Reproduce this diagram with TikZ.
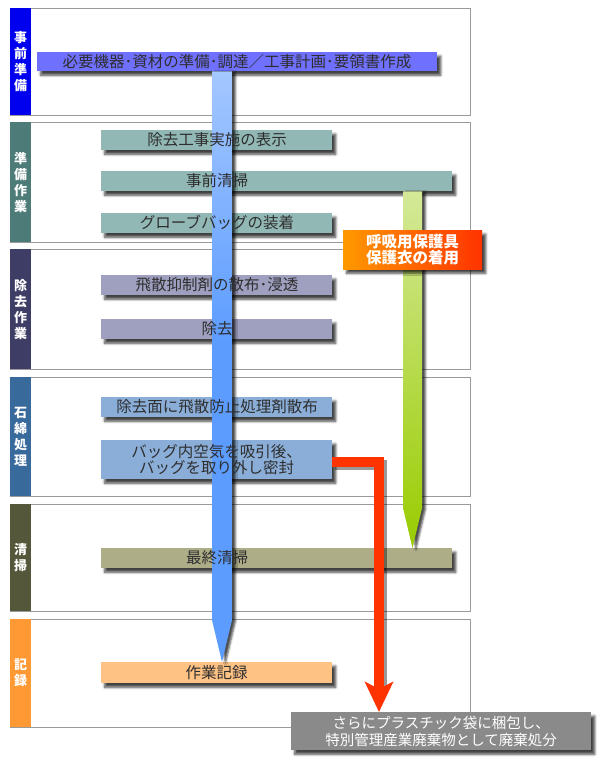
\documentclass[tikz,border=0pt]{standalone}
\usepackage{fontspec}
\setmainfont{Noto Sans CJK JP}
\usetikzlibrary{calc,arrows.meta,shadows.blur}
\definecolor{panelgray}{HTML}{9A9A9A}
\definecolor{tagA}{HTML}{0000EE}
\definecolor{tagB}{HTML}{4D7B77}
\definecolor{tagC}{HTML}{3D3D66}
\definecolor{tagD}{HTML}{386A9B}
\definecolor{tagE}{HTML}{55573A}
\definecolor{tagF}{HTML}{FF9933}
\definecolor{barA}{HTML}{7070FF}
\definecolor{barB}{HTML}{92B8B5}
\definecolor{barC}{HTML}{9F9FC0}
\definecolor{barD}{HTML}{8BAED8}
\definecolor{barE}{HTML}{ADAD88}
\definecolor{barF}{HTML}{FFC285}
\definecolor{finalgray}{HTML}{8A8A8A}
\definecolor{redline}{HTML}{FF3300}
\definecolor{orangeL}{HTML}{FF9900}
\definecolor{orangeR}{HTML}{FF3300}
\definecolor{txtgray}{HTML}{2E2E2E}
\definecolor{blueB}{HTML}{5C9CFF}
\definecolor{blueT}{HTML}{F2F6FF}
\definecolor{greenB}{HTML}{99CC00}
\definecolor{greenT}{HTML}{F2F7E4}
\pgfdeclareverticalshading{bluearrowshade}{100bp}{color(0bp)=(blueB); color(52bp)=(blueB); color(100bp)=(blueT)}
\pgfdeclareverticalshading{greenarrowshade}{100bp}{color(0bp)=(greenB); color(25bp)=(greenB); color(100bp)=(greenT)}
\tikzset{
  panel/.style={draw=panelgray, line width=0.8pt, minimum width=460pt, inner sep=0pt, anchor=north west},
  tag/.style={fill=#1, minimum width=21pt, inner sep=0pt, anchor=north west, text=white,
    font=\fontsize{13}{16}\selectfont\bfseries, align=center},
  bar/.style={fill=#1, inner sep=0pt, anchor=north west, minimum height=20pt,
    blur shadow={shadow xshift=3.5pt, shadow yshift=-4pt, shadow blur radius=2.5pt, shadow opacity=75}},
  btext/.style={text=txtgray, font=\fontsize{15.5}{16}\selectfont, inner sep=0pt, align=center},
  arrowshadow/.style={blur shadow={shadow xshift=3.5pt, shadow yshift=-1pt, shadow blur radius=2pt, shadow opacity=70}},
}
\begin{document}
\begin{tikzpicture}[x=1pt, y=-1pt]
\useasboundingbox (0,0) rectangle (600,765);
% panels
\node[panel, minimum height=107pt] (p1) at (10,8) {};
\node[panel, minimum height=120pt] (p2) at (10,122) {};
\node[panel, minimum height=120pt] (p3) at (10,249) {};
\node[panel, minimum height=119pt] (p4) at (10,377) {};
\node[panel, minimum height=107pt] (p5) at (10,504) {};
\node[panel, minimum height=108pt] (p6) at (10,619) {};
% tags
\node[tag=tagA, minimum height=107pt] (l1) at (10,8) {事\\前\\準\\備};
\node[tag=tagB, minimum height=120pt] (l2) at (10,122) {準\\備\\作\\業};
\node[tag=tagC, minimum height=120pt] (l3) at (10,249) {除\\去\\作\\業};
\node[tag=tagD, minimum height=119pt] (l4) at (10,377) {石\\綿\\処\\理};
\node[tag=tagE, minimum height=107pt] (l5) at (10,504) {清\\掃};
\node[tag=tagF, minimum height=108pt] (l6) at (10,619) {記\\録};
% bars
\node[bar=barA, minimum width=400pt, minimum height=19pt] (b0) at (37,52) {};
\node[bar=barB, minimum width=231pt] (b1) at (101,130) {};
\node[bar=barB, minimum width=351pt] (b2) at (101,171) {};
\node[bar=barB, minimum width=231pt] (b3) at (101,213) {};
\node[bar=barC, minimum width=231pt] (b4) at (101,275) {};
\node[bar=barC, minimum width=231pt] (b5) at (101,319) {};
\node[bar=barD, minimum width=231pt] (b6) at (101,397) {};
\node[bar=barD, minimum width=231pt, minimum height=39pt] (b7) at (101,440) {};
\node[bar=barE, minimum width=351pt] (b8) at (101,548) {};
\node[bar=barF, minimum width=231pt, minimum height=21pt] (b9) at (101,662) {};
\node[bar=finalgray, minimum width=300pt, minimum height=38pt] (fin) at (291,712) {};
% blue arrow
\coordinate (btop) at (222,0 |- b0.south);
\coordinate (btip) at (222,0 |- b9.north);
\shade[shading=bluearrowshade, arrowshadow]
  ($(btop)+(-10,0)$) -- ($(btop)+(10,0)$) -- ($(btip)+(10,-42)$) -- (btip)
  -- ($(btip)+(-10,-42)$) -- cycle;
% green arrow
\coordinate (gtop) at (412.5,0 |- b2.south);
\coordinate (gtip) at (412.5,0 |- b8.north);
\shade[shading=greenarrowshade, arrowshadow]
  ($(gtop)+(-9.5,0)$) -- ($(gtop)+(9.5,0)$) -- ($(gtip)+(9.5,-40)$) -- (gtip)
  -- ($(gtip)+(-9.5,-40)$) -- cycle;
% red connector
\coordinate (rtip) at (379,0 |- fin.north);
\draw[line width=9.5pt, black, opacity=0.4, transform canvas={shift={(3pt,-3pt)}}]
  ([yshift=-2.5pt]b7.east) -| ($(rtip)+(0,-24)$);
\draw[line width=9.5pt, redline, -{Stealth[width=28pt, length=30pt, inset=7pt]}]
  ([yshift=-2.5pt]b7.east) -| (rtip);
% texts
\node[btext] (t0) at (237,61.5) {必要機器･資材の準備･調達／工事計画･要領書作成};
\node[btext] (t1) at (217,140) {除去工事実施の表示};
\node[btext] (t2) at (217,181) {事前清掃};
\node[btext] (t3) at (217,223) {グローブバッグの装着};
\node[btext] (t4) at (217,285) {飛散抑制剤の散布･浸透};
\node[btext] (t5) at (217,329) {除去};
\node[btext] (t6) at (217,407) {除去面に飛散防止処理剤散布};
\node[btext] (t7) at (216.5,459.5) {バッグ内空気を吸引後、\\バッグを取り外し密封};
\node[btext] (t8) at (217,558) {最終清掃};
\node[btext] (t9) at (216.5,672.5) {作業記録};
\node[btext, text=white, font=\fontsize{14.5}{17}\selectfont] (tf) at (fin.center) {さらにプラスチック袋に梱包し、\\特別管理産業廃棄物として廃棄処分};
% protective gear box
\node[left color=orangeL, right color=orangeR, inner sep=0pt, anchor=north west,
  minimum width=139pt, minimum height=39pt, text=white, align=center,
  font=\fontsize{15.5}{16.5}\selectfont\bfseries,
  blur shadow={shadow xshift=3.5pt, shadow yshift=-4pt, shadow blur radius=2.5pt, shadow opacity=75}]
  (ppe) at (343,230) {呼吸用保護具\\保護衣の着用};
\end{tikzpicture}
\end{document}
